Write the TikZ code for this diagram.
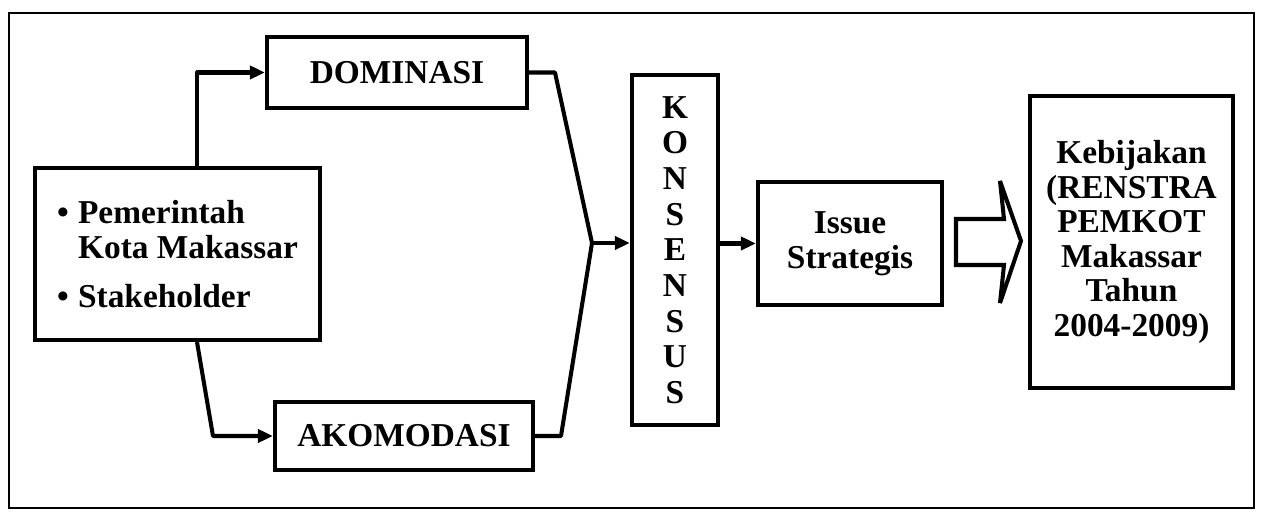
\documentclass[tikz,border=0pt]{standalone}
\usepackage{fontspec}
\setmainfont{Liberation Serif}
\usetikzlibrary{arrows.meta}
\begin{document}
\begin{tikzpicture}[x=0.02cm,y=-0.02cm,
  box/.style={draw, line width=2.4pt, inner sep=0pt, align=center,
    font=\fontsize{19}{20}\selectfont\bfseries},
  link/.style={line width=2.3pt, line join=round},
  arr/.style={link, -{Triangle[length=0.3cm,width=0.26cm]}}]
\useasboundingbox (0,0) rectangle (1261,519);
% outer frame
\draw[line width=1.3pt] (9,13) rectangle (1254,508);

% boxes
\node[box, minimum width=5.7cm, minimum height=3.44cm, align=left] (actors) at (177.5,254)
  {\makebox[0.42cm][l]{\textbullet}Pemerintah\\
   \hspace*{0.42cm}Kota Makassar\\[0.28cm]
   \makebox[0.42cm][l]{\textbullet}Stakeholder};
\node[box, minimum width=5.2cm, minimum height=1.42cm] (dom) at (397,72.5) {DOMINASI};
\node[box, minimum width=5.16cm, minimum height=1.36cm] (ako) at (404,436) {AKOMODASI};
\node[box, minimum width=1.72cm, minimum height=7.0cm,
  font=\fontsize{19}{20.3}\selectfont\bfseries] (kon) at (675,250)
  {K\\O\\N\\S\\E\\N\\S\\U\\S};
\node[box, minimum width=3.68cm, minimum height=2.46cm] (iss) at (850,243.5)
  {Issue\\Strategis};
\node[box, minimum width=4.06cm, minimum height=5.84cm,
  font=\fontsize{19}{19.6}\selectfont\bfseries] (keb) at (1131.5,242)
  {Kebijakan\\(RENSTRA\\PEMKOT\\Makassar\\Tahun\\2004-2009)};

% bend points
\coordinate (split) at (197,0);
\coordinate (lowbend) at (213,0);
\coordinate (domout) at (555,0);
\coordinate (akoout) at (561,0);
\coordinate (join) at (592,243);

% connectors
\draw[arr] (actors.north -| split) -- (split |- dom.west) -- (dom.west);
\draw[arr] (actors.south -| split) -- (lowbend |- ako.west) -- (ako.west);
\draw[link] (dom.east) -- (domout |- dom.east) -- (join);
\draw[link] (ako.east) -- (akoout |- ako.east) -- (join);
\draw[arr] (join) -- (join -| kon.west);
\draw[arr] (kon.east |- iss.west) -- (iss.west);

% hollow block arrow from the issue box to the policy box
\draw[line width=2.3pt, line join=miter, miter limit=4]
  (956,219) -- (1004,219) -- (1000,181) -- (1021,241) -- (1000,303)
  -- (1004,265) -- (956,265) -- cycle;
\end{tikzpicture}
\end{document}
